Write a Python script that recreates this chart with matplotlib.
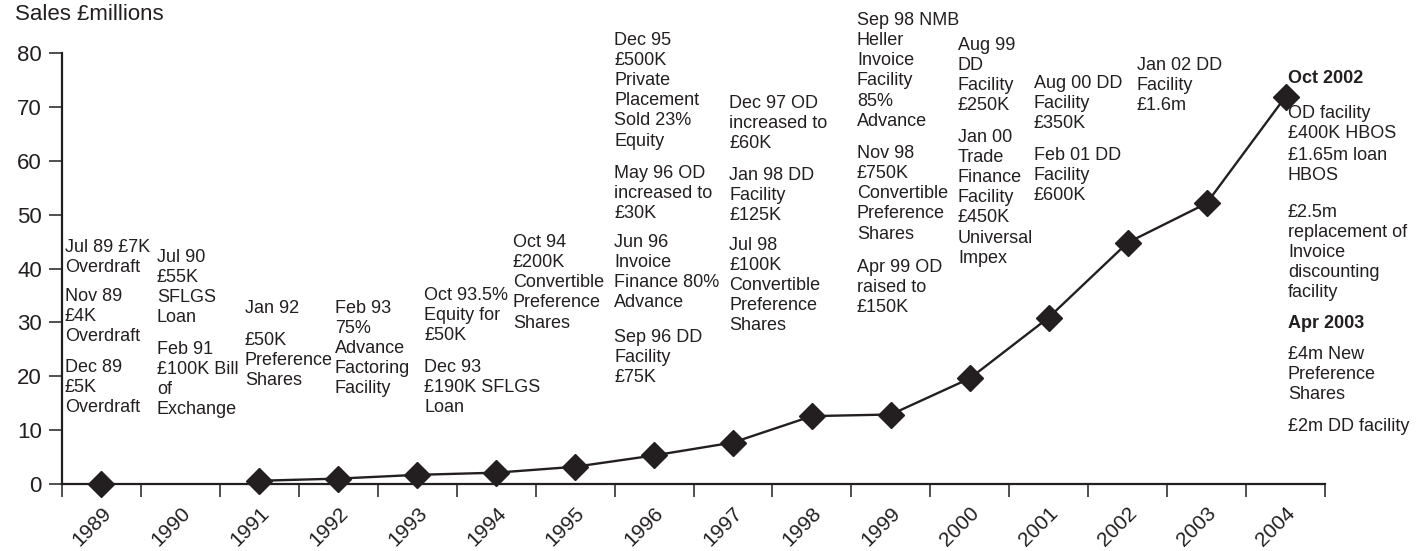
import numpy as np
import matplotlib
matplotlib.use('Agg')
import matplotlib.pyplot as plt

#Data
years = ['1989', '1990', '1991', '1992', '1993', '1994', '1995', '1996',
         '1997', '1998', '1999', '2000', '2001', '2002', '2003', '2004']
sales = [0, np.nan, 0.6, 1.0, 1.7, 2.1, 3.2, 5.3, 7.7, 12.6, 12.9, 19.6,
         30.9, 44.8, 52.1, 71.9]

notes = [
    'Jul 89 £7K\nOverdraft',
    'Nov 89\n£4K\nOverdraft',
    'Dec 89\n£5K\nOverdraft',
    'Jul 90\n£55K\nSFLGS\nLoan',
    'Feb 91\n£100K Bill\nof\nExchange',
    'Jan 92',
    '£50K\nPreference\nShares',
    'Feb 93\n75%\nAdvance\nFactoring\nFacility',
    'Oct 93.5%\nEquity for\n£50K',
    'Dec 93\n£190K SFLGS\nLoan',
    'Oct 94\n£200K\nConvertible\nPreference\nShares',
    'Dec 95\n£500K\nPrivate\nPlacement\nSold 23%\nEquity',
    'May 96 OD\nincreased to\n£30K',
    'Jun 96\nInvoice\nFinance 80%\nAdvance',
    'Sep 96 DD\nFacility\n£75K',
    'Dec 97 OD\nincreased to\n£60K',
    'Jan 98 DD\nFacility\n£125K',
    'Jul 98\n£100K\nConvertible\nPreference\nShares',
    'Sep 98 NMB\nHeller\nInvoice\nFacility\n85%\nAdvance',
    'Nov 98\n£750K\nConvertible\nPreference\nShares',
    'Apr 99 OD\nraised to\n£150K',
    'Aug 99\nDD\nFacility\n£250K',
    'Jan 00\nTrade\nFinance\nFacility\n£450K\nUniversal\nImpex',
    'Aug 00 DD\nFacility\n£350K',
    'Feb 01 DD\nFacility\n£600K',
    'Jan 02 DD\nFacility\n£1.6m',
    'Oct 2002',
    'OD facility\n£400K HBOS',
    '£1.65m loan\nHBOS',
    '£2.5m\nreplacement of\nInvoice\ndiscounting\nfacility',
    'Apr 2003',
    '£4m New\nPreference\nShares',
    '£2m DD facility',
]
bold_notes = ['Oct 2002', 'Apr 2003']

# where each note sits (category units, sales units of its top edge)
note_x = [-0.462, -0.462, -0.462, 0.703, 0.703, 1.818, 1.818, 2.958,
          4.086, 4.086, 5.213, 6.493, 6.493, 6.493, 6.493, 7.956, 7.956,
          7.956, 9.571, 9.571, 9.571, 10.85, 10.85, 11.813, 11.813, 13.118,
          15.031, 15.031, 15.031, 15.031, 15.031, 15.031, 15.031]
note_y = [45.5, 36.4, 23.2, 43.6, 26.6, 34.2, 28.2, 34.2, 36.6, 23.2,
          46.4, 83.9, 59.2, 46.4, 28.8, 72.2, 58.9, 45.9, 87.6, 62.9, 41.8,
          83.0, 65.9, 75.9, 62.6, 79.3, 76.9, 70.4, 62.6, 52.0, 31.4, 25.6,
          12.3]

ink = '#231f20'
plt.rcParams['font.family'] = ['Liberation Sans', 'DejaVu Sans']

fig = plt.figure(figsize=(14.24, 5.51), dpi=100)
ax = fig.add_axes([62 / 1424, 1 - 484 / 551, (1325 - 62) / 1424, (484 - 53) / 551])

x = np.arange(len(years))
ax.plot(x, sales, color=ink, lw=1.7, marker='D', ms=13, zorder=3, clip_on=False)

ax.set_xlim(-0.5, len(years) - 0.5)
ax.set_ylim(0, 80)
ax.set_yticks(np.arange(0, 81, 10))
ax.set_xticks(np.arange(-0.5, len(years)), minor=False)
ax.set_xticklabels([])
ax.set_xticks(x, minor=True)
ax.set_xticklabels(years, minor=True, rotation=45, ha='right',
                   rotation_mode='anchor', fontsize=15, color=ink)
ax.tick_params(axis='x', which='minor', length=0, pad=14)
ax.tick_params(axis='x', which='major', length=9, width=1.1, color=ink)
ax.tick_params(axis='y', length=9.5, width=1.1, color=ink, labelsize=16,
               labelcolor=ink, pad=5)

for s in ['top', 'right']:
    ax.spines[s].set_visible(False)
for s in ['left', 'bottom']:
    ax.spines[s].set_linewidth(1.6)
    ax.spines[s].set_color(ink)

for t, nx, ny in zip(notes, note_x, note_y):
    ax.text(nx, ny, t, ha='left', va='top', fontsize=13, color=ink,
            linespacing=1.24, fontweight='bold' if t in bold_notes else 'normal')

fig.text(15 / 1424, 1 - 4 / 551, 'Sales £millions', ha='left', va='top',
         fontsize=16, color=ink)

fig.savefig('out.png', dpi=100)
